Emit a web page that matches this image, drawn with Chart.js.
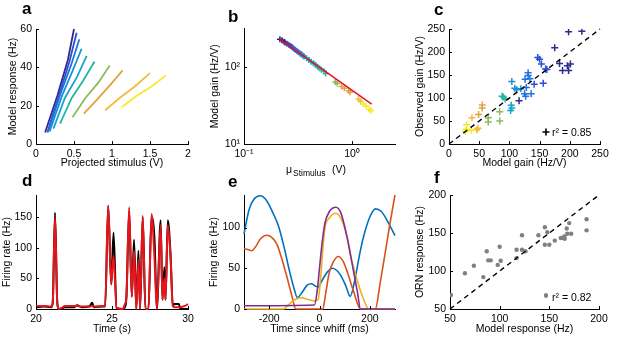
<!DOCTYPE html>
<html>
<head>
<meta charset="utf-8">
<script src="https://cdn.jsdelivr.net/npm/chart.js@4"></script>
<style>
  body { margin: 0; background: #fff; }
  #fig { position: relative; width: 617px; height: 344px; overflow: hidden; font-family: 'Liberation Sans', Arial, Helvetica, sans-serif; color: #000; }
  #fig canvas { position: absolute; left: 0; top: 0; }
  .txt { position: absolute; line-height: 1; white-space: nowrap; }
  .panel { font-weight: bold; font-size: 17px; }
</style>
</head>
<body>
<div id="fig">
  <canvas id="chartA" width="617" height="344"></canvas>
  <canvas id="chartB" width="617" height="344"></canvas>
  <canvas id="chartC" width="617" height="344"></canvas>
  <canvas id="chartD" width="617" height="344"></canvas>
  <canvas id="chartE" width="617" height="344"></canvas>
  <canvas id="chartF" width="617" height="344"></canvas>

  <div class="txt panel" style="left:22px; top:-0.4px;">a</div>
  <div class="txt panel" style="left:228px; top:8.3px;">b</div>
  <div class="txt panel" style="left:434px; top:0.6px;">c</div>
  <div class="txt panel" style="left:22px; top:172px;">d</div>
  <div class="txt panel" style="left:228px; top:173px;">e</div>
  <div class="txt panel" style="left:434px; top:168.6px;">f</div>

  <!-- panel b x title: mu with subscript -->
  <div class="txt" style="left:286px; top:164px; font-size:10.5px;">μ</div>
  <div class="txt" style="left:293px; top:169.3px; font-size:8.5px;">Stimulus</div>
  <div class="txt" style="left:332px; top:164px; font-size:10.5px;">(V)</div>

  <!-- legends in c and f -->
  <svg style="position:absolute; left:542px; top:128px;" width="8" height="8"><path d="M4 0.5V7.5M0.5 4H7.5" stroke="#000" stroke-width="1.6"/></svg>
  <div class="txt" style="left:552px; top:126.6px; font-size:10.5px;">r² = 0.85</div>
  <div style="position:absolute; left:544px; top:293.3px; width:4.4px; height:4.4px; border-radius:50%; background:#808080;"></div>
  <div class="txt" style="left:552px; top:292.1px; font-size:10.5px;">r² = 0.82</div>
</div>

<script>
// ---- data ----

// a: model response vs projected stimulus, one line per stimulus level
const aLineX = [
  [0.12, 0.28, 0.42, 0.50],
  [0.15, 0.30, 0.44, 0.535],
  [0.16, 0.32, 0.46, 0.57],
  [0.18, 0.34, 0.48, 0.60],
  [0.23, 0.38, 0.54, 0.667],
  [0.316, 0.47, 0.62, 0.77],
  [0.48, 0.65, 0.82, 0.97],
  [0.63, 0.80, 0.98, 1.14],
  [0.91, 1.10, 1.30, 1.50],
  [1.13, 1.32, 1.52, 1.71]
];
const aLineY = [
  [6, 25, 44, 60],
  [6, 25, 43, 58],
  [6.3, 26, 41, 54.6],
  [6.6, 25, 38, 49.7],
  [8, 24, 35, 46],
  [10.6, 24, 33, 43],
  [14, 24, 32, 41],
  [15.8, 23, 31, 38.4],
  [17.6, 24, 30, 37],
  [19.3, 25, 30, 35.8]
];
const aTicksX = [0, 0.5, 1, 1.5, 2];
const aTicksY = [0, 20, 40, 60];

// b: model gain vs mean stimulus (log-log), with fit line
const bX = [0.215, 0.225, 0.235, 0.24, 0.25, 0.26, 0.27, 0.28, 0.29, 0.30, 0.31, 0.32, 0.33, 0.34, 0.35, 0.36,
            0.38, 0.40, 0.42, 0.44, 0.46, 0.48, 0.50, 0.52, 0.55, 0.57, 0.70, 0.73, 0.80, 0.85, 0.93, 0.96,
            1.15, 1.20, 1.27, 1.35, 1.45, 1.50];
const bY = [229, 222, 213, 208, 200, 194, 187, 180, 172, 166, 160, 155, 150, 146, 141, 137,
            130, 123, 117, 112, 106, 101, 96, 92, 88, 82, 64, 61, 56, 53, 49, 47,
            38, 36, 33, 31, 28, 27];
const bLevel = [0, 0, 0, 0, 1, 1, 1, 1, 2, 2, 2, 2, 2, 3, 3, 3,
                4, 4, 4, 4, 4, 5, 5, 5, 5, 5, 6, 6, 7, 7, 7, 7,
                8, 8, 9, 9, 9, 9];
const bFitX = [0.215, 1.52];
const bFitY = [229, 33];
const bTicksX = [0.1, 1];
const bTicksY = [10, 100];

// c: observed gain vs model gain
const cX = [198, 220, 175, 183, 196, 201, 188, 198, 116,
            147, 150, 153, 162, 160, 156, 141,
            131, 131, 134, 126, 128, 136, 125, 127,
            104, 109, 112, 119,
            103, 104, 102,
            90, 93, 88,
            84, 84, 65, 65,
            55, 55, 49,
            38, 48, 46,
            29, 29, 27, 37];
const cY = [244, 245, 209, 175, 170, 174, 160, 160, 94,
            188, 184, 174, 162, 163, 132, 130,
            155, 149, 142, 141, 123, 109, 109, 104,
            136, 121, 118, 120,
            84, 78, 73,
            102, 98, 104,
            70, 50, 57, 48,
            85, 78, 64,
            57, 34, 31,
            42, 32, 27, 30];
const cLevel = [0, 0, 0, 0, 0, 0, 0, 0, 0,
                1, 1, 1, 1, 1, 1, 1,
                2, 2, 2, 2, 2, 2, 2, 2,
                3, 3, 3, 3,
                4, 4, 4,
                5, 5, 5,
                6, 6, 6, 6,
                7, 7, 7,
                8, 8, 8,
                9, 9, 9, 9];
const cTicks = [0, 50, 100, 150, 200, 250];

// d: firing rate, ORN (black) and model (red)
const dTime = [20.0, 20.5, 21.0, 21.1, 21.25, 21.4, 21.5, 21.7, 21.9, 22.5, 22.7, 23.0, 23.5, 23.7, 23.8, 24.4,
               24.55, 24.75, 24.95, 25.1, 25.3, 25.7, 25.85, 25.95, 26.13, 26.3, 26.45, 26.6, 26.74, 26.85,
               27.02, 27.2, 27.4, 27.6, 27.8, 27.95, 28.2, 28.32, 28.45, 28.52, 28.67, 28.85, 29.0, 29.1,
               29.4, 29.5, 29.8, 30.0];
const dOrn = [3, 4, 3, 10, 157, 10, 0, 1, 3, 3, 6, 3, 4, 10, 3, 4,
              4, 168, 40, 125, 2, 0, 3, 20, 160, 20, 113, 0, 95, 0,
              150, 0, 0, 150, 112, 0, 145, 15, 68, 15, 145, 90, 5, 8,
              8, 0, 0, 0];
const dModel = [5, 5, 4, 10, 150, 10, 0, 2, 5, 5, 5, 4, 4, 5, 4, 5,
                5, 169, 40, 87, 2, 0, 8, 20, 166, 20, 95, 0, 80, 0,
                152, 0, 0, 155, 80, 0, 137, 15, 50, 15, 137, 85, 5, 3,
                3, 3, 5, 8];
const dTicksX = [20, 25, 30];
const dTicksY = [0, 50, 100, 150];

// e: firing rate around whiffs, four example traces
const eBlueT = [-300, -280, -260, -235, -210, -185, -163, -140, -118, -100, -88, -70, -50, -33, -15, -5,
                10, 30, 52, 70, 85, 105, 122, 140, 160, 176, 200, 222, 245, 270, 300];
const eBlueV = [92, 122, 135, 139, 133, 118, 102, 75, 45, 24, 14, 20, 29, 31, 28, 27,
                35, 45, 50, 47, 41, 28, 15.5, 35, 68, 90, 113, 123, 120, 108, 90];
const eOrangeT = [-300, -285, -270, -255, -235, -209, -190, -170, -150, -124, -108, -94, 13, 25, 39, 55,
                  75, 95, 111, 135, 163, 222, 240, 261, 280, 300];
const eOrangeV = [74, 73, 71.5, 76, 86, 90.6, 88, 80, 62, 33, 14, 0, 0, 20, 45, 58,
                  64.5, 58, 45, 22, 0, 0, 30, 69, 105, 140];
const eYellowT = [-300, -144, -120, -100, -72, -50, -20, -5, 5, 15, 22, 40, 65, 90, 110, 124, 150, 175, 196, 300];
const eYellowV = [0, 0, 6, 11, 14, 12, 10, 12, 40, 80, 100, 112, 117.5, 108, 88, 65, 35, 12, 0, 0];
const ePurpleT = [-300, -20, -10, 0, 10, 22, 40, 65, 85, 111, 130, 150, 163, 300];
const ePurpleV = [4, 5, 20, 50, 80, 106, 120, 125, 118, 86, 55, 22, 0, 0];
const eTicksX = [-200, 0, 200];
const eTicksY = [0, 50, 100];

// f: ORN response vs model response
const fX = [51, 65, 74, 83.5, 87, 88.5, 91, 98, 100, 101, 117, 117, 122.5, 122.5, 126, 139, 145.5, 145.5,
            148, 150, 155.5, 161.5, 164, 165, 165.5, 167.5, 168, 170, 172, 187.5, 187.5];
const fY = [68.5, 97, 107, 92, 126, 114, 114, 108, 132, 113.5, 128, 117, 147, 128, 126, 147, 157.5, 134.5,
            151, 134.5, 140, 143.5, 143.5, 145.5, 142.5, 156, 149, 163, 149, 168, 153.5];
const fTicks = [50, 100, 150, 200];

// ---- styling ----
const parula = ['#2f2a8c', '#2a4fd6', '#2272e0', '#1a90d8', '#16a6cc', '#26b4a4', '#8cbb5c', '#e0a244', '#f0bc40', '#f2ec2a'];
const FONT = "'Liberation Sans', Arial, Helvetica, sans-serif";
Chart.defaults.font.family = FONT;
Chart.defaults.font.size = 10.5;
Chart.defaults.color = '#000';

const sup = {'-': '⁻', '0': '⁰', '1': '¹', '2': '²', '3': '³'};
function powerLabel(v) {
  const e = String(Math.round(Math.log10(v)));
  return '10' + e.split('').map(c => sup[c]).join('');
}

// fixed axis box sizes so every plot area lands where the figure has it
function fixBox(w, h) {
  return scale => {
    if (w != null) scale.width = w;
    if (h != null) scale.height = h;
    scale.paddingLeft = scale.paddingRight = scale.paddingTop = scale.paddingBottom = 0;
  };
}

function scaleOpts(s, w, h) {
  return {
    type: s.type || 'linear',
    min: s.min,
    max: s.max,
    grid: {display: false, drawTicks: false, tickLength: 0},
    border: {display: true, color: '#000', width: 1},
    ticks: {
      padding: 4,
      color: '#000',
      maxRotation: 0,
      autoSkip: false,
      font: {size: 10.5},
      callback: v => s.fmt ? s.fmt(v) : String(v)
    },
    title: {display: !!s.title, text: s.title || '', padding: 0, color: '#000', font: {size: 10.5}},
    afterBuildTicks: sc => { sc.ticks = s.ticks.map(v => ({value: v})); },
    afterFit: fixBox(w, h)
  };
}

// short tick marks pointing into the plot
const inwardTicks = {
  id: 'inwardTicks',
  afterDraw(chart) {
    const ctx = chart.ctx;
    const area = chart.chartArea;
    const xs = chart.scales.x, ys = chart.scales.y;
    ctx.save();
    ctx.strokeStyle = '#000';
    ctx.lineWidth = 1;
    xs.ticks.forEach(t => {
      const px = Math.round(xs.getPixelForValue(t.value)) + 0.5;
      ctx.beginPath(); ctx.moveTo(px, area.bottom); ctx.lineTo(px, area.bottom - 3); ctx.stroke();
    });
    ys.ticks.forEach(t => {
      const py = Math.round(ys.getPixelForValue(t.value)) + 0.5;
      ctx.beginPath(); ctx.moveTo(area.left, py); ctx.lineTo(area.left + 3, py); ctx.stroke();
    });
    ctx.restore();
  }
};

function makePanel(id, box, xs, ys, datasets) {
  return new Chart(document.getElementById(id), {
    type: 'scatter',
    data: {datasets: datasets},
    options: {
      responsive: false,
      animation: false,
      events: [],
      layout: {padding: {left: box.l - box.yw, top: box.t, right: 617 - box.r, bottom: 344 - box.b - box.xh}},
      plugins: {legend: {display: false}, tooltip: {enabled: false}},
      scales: {x: scaleOpts(xs, null, box.xh), y: scaleOpts(ys, box.yw, null)}
    },
    plugins: [inwardTicks]
  });
}

const xy = (xsArr, ysArr) => xsArr.map((x, i) => ({x: x, y: ysArr[i]}));

function curve(data, color, width, smooth) {
  return {
    data: data, showLine: true, borderColor: color, backgroundColor: color,
    borderWidth: width, pointRadius: 0, clip: false,
    cubicInterpolationMode: smooth ? 'monotone' : 'default', tension: 0
  };
}

function dashed(lo, hi) {
  return {data: [{x: lo, y: lo}, {x: hi, y: hi}], showLine: true, borderColor: '#000',
          borderWidth: 1.4, borderDash: [5, 4], pointRadius: 0, clip: false};
}

// a
makePanel('chartA', {l: 36, t: 29, r: 188, b: 144, yw: 29.3, xh: 25.3},
  {min: 0, max: 2, ticks: aTicksX, title: 'Projected stimulus (V)'},
  {min: 0, max: 60, ticks: aTicksY, title: 'Model response (Hz)'},
  aLineX.map((lx, i) => curve(xy(lx, aLineY[i]), parula[i], 1.8, false)).reverse());

// b
makePanel('chartB', {l: 244, t: 28.5, r: 395, b: 144, yw: 35.3, xh: 20},
  {type: 'logarithmic', min: 0.1, max: 2.5, ticks: bTicksX, fmt: powerLabel},
  {type: 'logarithmic', min: 10, max: 316, ticks: bTicksY, fmt: powerLabel, title: 'Model gain (Hz/V)'},
  [
    curve(xy(bFitX, bFitY), '#e3141c', 1.5, false),
    {data: xy(bX, bY), pointStyle: 'cross', pointRadius: 3,
     pointBorderWidth: 1.5, pointBorderColor: bLevel.map(g => parula[g]),
     pointBackgroundColor: bLevel.map(g => parula[g])}
  ]);

// c
makePanel('chartC', {l: 449, t: 29, r: 600, b: 144, yw: 35.3, xh: 25.3},
  {min: 0, max: 250, ticks: cTicks, title: 'Model gain (Hz/V)'},
  {min: 0, max: 250, ticks: cTicks, title: 'Observed gain (Hz/V)'},
  [
    dashed(0, 250),
    {data: xy(cX, cY), pointStyle: 'cross', pointRadius: 3.5,
     pointBorderWidth: 1.5, pointBorderColor: cLevel.map(g => parula[g]),
     pointBackgroundColor: cLevel.map(g => parula[g])}
  ]);

// d
makePanel('chartD', {l: 36, t: 195, r: 188, b: 309, yw: 35, xh: 26},
  {min: 20, max: 30, ticks: dTicksX, title: 'Time (s)'},
  {min: 0, max: 186, ticks: dTicksY, title: 'Firing rate (Hz)'},
  [
    curve(xy(dTime, dModel), '#e8141a', 2, true),
    curve(xy(dTime, dOrn), '#000000', 2, true)
  ]);

// e
makePanel('chartE', {l: 244, t: 195, r: 395, b: 309, yw: 36.3, xh: 26},
  {min: -300, max: 300, ticks: eTicksX, title: 'Time since whiff (ms)'},
  {min: 0, max: 140, ticks: eTicksY, title: 'Firing rate (Hz)'},
  [
    curve(xy(ePurpleT, ePurpleV), '#7e2f8e', 1.6, true),
    curve(xy(eYellowT, eYellowV), '#edb120', 1.6, true),
    curve(xy(eOrangeT, eOrangeV), '#d95319', 1.6, true),
    curve(xy(eBlueT, eBlueV), '#0072bd', 1.6, true)
  ]);

// f
makePanel('chartF', {l: 450, t: 195, r: 599, b: 309, yw: 36.3, xh: 26},
  {min: 50, max: 200, ticks: fTicks, title: 'Model response (Hz)'},
  {min: 50, max: 200, ticks: fTicks, title: 'ORN response (Hz)'},
  [
    dashed(50, 200),
    {data: xy(fX, fY), pointStyle: 'circle', pointRadius: 2.2, pointBorderWidth: 0,
     pointBackgroundColor: '#808080', pointBorderColor: '#808080'}
  ]);
</script>
</body>
</html>
